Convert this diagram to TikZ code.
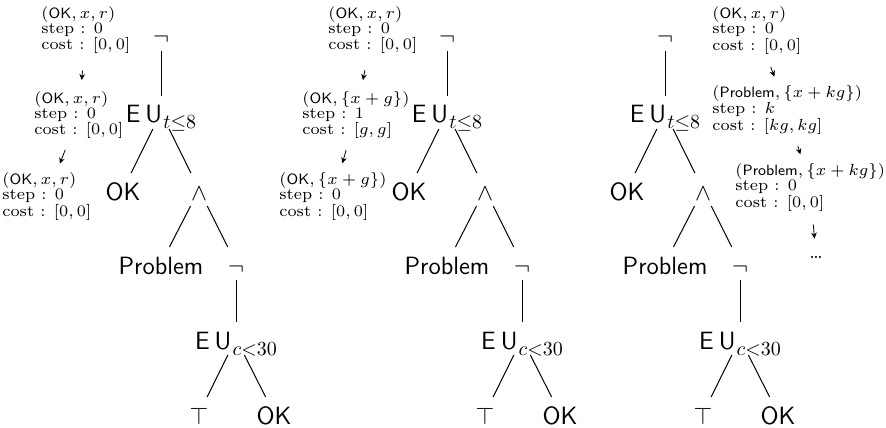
\documentclass[tikz,border=0pt]{standalone}
\usepackage{fontspec}
\usepackage{amsmath}
\usepackage{amssymb}
\usepackage{graphicx}
\usetikzlibrary{positioning,arrows.meta}
\newcommand{\EU}[1]{E\hspace{2.5pt}U\raisebox{-3pt}{\fontsize{9.8}{10}\selectfont\hspace{0.6pt}$#1$}}
\newcommand{\verdict}[1]{\mbox{\fontsize{6.5}{7}\selectfont\sffamily #1}}
\newcommand{\cfgtext}[3]{\scalebox{1.15}{\fontsize{7}{6.4}\selectfont%
  \begin{tabular}{@{}l@{}}#1\\ #2\\ #3\end{tabular}}}
\tikzstyle{formula}=[font=\fontsize{12.5}{14}\sffamily,%
                     text height=11pt,%
                     text depth=0.5pt,%
                     inner sep=0pt,%
                     outer sep=2.5pt,%
                     on grid]
\tikzstyle{cfg}=[inner sep=0pt, anchor=north west]
\tikzstyle{stepto}=[-{Stealth[length=3pt,width=2.8pt]}, shorten <=6pt, shorten >=4.75pt]
\tikzstyle{branch}=[line width=0.5pt]

\begin{document}
\begin{tikzpicture}[x=0.5pt,y=-0.5pt]
  \useasboundingbox (0,0) rectangle (886,427);
  % first tree
  \node[formula] (neg1a) at (161,34.5) {$\neg$};
  \node[formula][below=39pt of neg1a] (eu1a) {\EU{t{\leq}8}};
  \node[formula][below left=38.5pt and 19pt of eu1a] (ok1a) {OK};
  \node[formula][below right=38.5pt and 19pt of eu1a] (and1) {$\wedge$};
  \node[formula][below left=37pt and 19pt of and1] (pb1) {Problem};
  \node[formula][below right=37pt and 18.5pt of and1] (neg1b) {$\neg$};
  \node[formula][below=37.5pt of neg1b] (eu1b) {\EU{c{<}30}};
  \node[formula][below left=37.5pt and 18.5pt of eu1b] (top1) {$\top$};
  \node[formula][below right=37.5pt and 19pt of eu1b] (ok1b) {OK};
  \draw[branch] (neg1a) -- (eu1a);
  \draw[branch] (eu1a) -- (ok1a);
  \draw[branch] (eu1a) -- (and1);
  \draw[branch] (and1) -- (pb1);
  \draw[branch] (and1) -- (neg1b);
  \draw[branch] (neg1b) -- (eu1b);
  \draw[branch] (eu1b) -- (top1);
  \draw[branch] (eu1b) -- (ok1b);

  \node[cfg] (a1) at (41,6) {\cfgtext{$(\verdict{OK}, x, r)$}{step : $0$}{cost : $[0, 0]$}};
  \node[cfg] (a2) at (34,91) {\cfgtext{$(\verdict{OK}, x, r)$}{step : $0$}{cost : $[0, 0]$}};
  \node[cfg] (a3) at (2,172.5) {\cfgtext{$(\verdict{OK}, x, r)$}{step : $0$}{cost : $[0, 0]$}};
  \draw[stepto, shorten <=8pt, shorten >=5.5pt] (a1) -- (a2);
  \draw[stepto, shorten <=5.5pt] (a2) -- (a3);

  % second tree
  \node[formula] (neg2a) at (447,34.5) {$\neg$};
  \node[formula][below=39pt of neg2a] (eu2a) {\EU{t{\leq}8}};
  \node[formula][below left=38.5pt and 19pt of eu2a] (ok2a) {OK};
  \node[formula][below right=38.5pt and 19pt of eu2a] (and2) {$\wedge$};
  \node[formula][below left=37pt and 19pt of and2] (pb2) {Problem};
  \node[formula][below right=37pt and 18.5pt of and2] (neg2b) {$\neg$};
  \node[formula][below=37.5pt of neg2b] (eu2b) {\EU{c{<}30}};
  \node[formula][below left=37.5pt and 18.5pt of eu2b] (top2) {$\top$};
  \node[formula][below right=37.5pt and 19pt of eu2b] (ok2b) {OK};
  \draw[branch] (neg2a) -- (eu2a);
  \draw[branch] (eu2a) -- (ok2a);
  \draw[branch] (eu2a) -- (and2);
  \draw[branch] (and2) -- (pb2);
  \draw[branch] (and2) -- (neg2b);
  \draw[branch] (neg2b) -- (eu2b);
  \draw[branch] (eu2b) -- (top2);
  \draw[branch] (eu2b) -- (ok2b);

  \node[cfg] (b1) at (328,6) {\cfgtext{$(\verdict{OK}, x, r)$}{step : $0$}{cost : $[0, 0]$}};
  \node[cfg] (b2) at (302,91) {\cfgtext{$(\verdict{OK}, \{x + g\})$}{step : $1$}{cost : $[g, g]$}};
  \node[cfg] (b3) at (279,172.5) {\cfgtext{$(\verdict{OK}, \{x + g\})$}{step : $0$}{cost : $[0, 0]$}};
  \draw[stepto, shorten <=8pt, shorten >=5.5pt] (b1) -- (b2);
  \draw[stepto, shorten <=5.5pt] (b2) -- (b3);

  % third tree
  \node[formula] (neg3a) at (665,34.5) {$\neg$};
  \node[formula][below=39pt of neg3a] (eu3a) {\EU{t{\leq}8}};
  \node[formula][below left=38.5pt and 19pt of eu3a] (ok3a) {OK};
  \node[formula][below right=38.5pt and 19pt of eu3a] (and3) {$\wedge$};
  \node[formula][below left=37pt and 19pt of and3] (pb3) {Problem};
  \node[formula][below right=37pt and 18.5pt of and3] (neg3b) {$\neg$};
  \node[formula][below=37.5pt of neg3b] (eu3b) {\EU{c{<}30}};
  \node[formula][below left=37.5pt and 18.5pt of eu3b] (top3) {$\top$};
  \node[formula][below right=37.5pt and 19pt of eu3b] (ok3b) {OK};
  \draw[branch] (neg3a) -- (eu3a);
  \draw[branch] (eu3a) -- (ok3a);
  \draw[branch] (eu3a) -- (and3);
  \draw[branch] (and3) -- (pb3);
  \draw[branch] (and3) -- (neg3b);
  \draw[branch] (neg3b) -- (eu3b);
  \draw[branch] (eu3b) -- (top3);
  \draw[branch] (eu3b) -- (ok3b);

  \node[cfg] (c1) at (712,6.5) {\cfgtext{$(\verdict{OK}, x, r)$}{step : $0$}{cost : $[0, 0]$}};
  \node[cfg] (c2) at (712,85.5) {\cfgtext{$(\verdict{Problem}, \{x + kg\})$}{step : $k$}{cost : $[kg, kg]$}};
  \node[cfg] (c3) at (735,163.5) {\cfgtext{$(\verdict{Problem}, \{x + kg\})$}{step : $0$}{cost : $[0, 0]$}};
  \node[font=\fontsize{10}{12}\selectfont, inner sep=0pt] (more) at (816,257) {\dots};
  \draw[stepto, shorten <=6.3pt] (c1) -- (c2);
  \draw[stepto, shorten <=5.8pt] (c2) -- (c3);
  \draw[stepto, shorten <=6.3pt, shorten >=8.5pt] (c3) -- (more);
\end{tikzpicture}
\end{document}
